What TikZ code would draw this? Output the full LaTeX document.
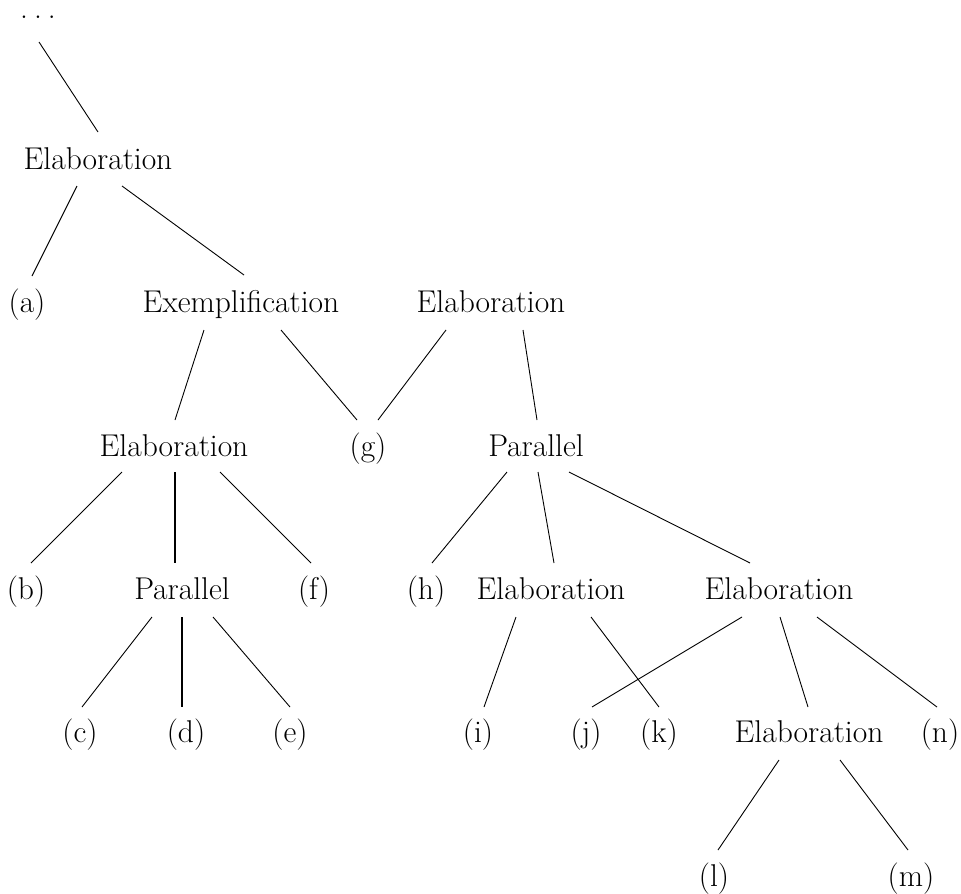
\documentclass[tikz,border=0pt]{standalone}
\begin{document}
\begin{tikzpicture}[x=1pt,y=-1pt,
  lbl/.style={inner sep=0pt, anchor=base, font=\fontsize{31.5}{38}\selectfont},
  edge/.style={line width=0.9pt},
  midedge/.style={line width=1.4pt},
  thickedge/.style={line width=2.6pt}]
\useasboundingbox (0,0) rectangle (961,894);
% nodes (x, baseline y)
\node[lbl] (top) at (38,19) {.\kern6pt.\kern6pt.};
\node[lbl] (E1) at (98,169) {Elaboration};
\node[lbl] (a) at (27,312) {(a)};
\node[lbl] (X) at (241,312) {Exemplification};
\node[lbl] (E2) at (491,312) {Elaboration};
\node[lbl] (E3) at (174,456) {Elaboration};
\node[lbl] (g) at (368,456) {(g)};
\node[lbl] (P1) at (536,456) {Parallel};
\node[lbl] (b) at (26,599) {(b)};
\node[lbl] (P2) at (182,599) {Parallel};
\node[lbl] (f) at (314,599) {(f)};
\node[lbl] (h) at (426,599) {(h)};
\node[lbl] (E4) at (551,599) {Elaboration};
\node[lbl] (E5) at (779,599) {Elaboration};
\node[lbl] (c) at (80,742) {(c)};
\node[lbl] (d) at (186,742) {(d)};
\node[lbl] (e) at (290,742) {(e)};
\node[lbl] (i) at (478,742) {(i)};
\node[lbl] (j) at (586,742) {(j)};
\node[lbl] (k) at (659,742) {(k)};
\node[lbl] (E6) at (809,742) {Elaboration};
\node[lbl] (n) at (940,742) {(n)};
\node[lbl] (l) at (714,886) {(l)};
\node[lbl] (m) at (911,886) {(m)};
% connectors
\draw[edge] ([shift={(1,23)}]top.base) -- ([shift={(0,-37)}]E1.base);
\draw[edge] ([shift={(-21,17)}]E1.base) -- ([shift={(5,-36)}]a.base);
\draw[edge] ([shift={(24,17)}]E1.base) -- ([shift={(3,-37)}]X.base);
\draw[edge] ([shift={(-37,18)}]X.base) -- ([shift={(1,-36)}]E3.base);
\draw[edge] ([shift={(40,18)}]X.base) -- ([shift={(-11,-36)}]g.base);
\draw[edge] ([shift={(-45,18)}]E2.base) -- ([shift={(10,-36)}]g.base);
\draw[edge] ([shift={(32,18)}]E2.base) -- ([shift={(1,-36)}]P1.base);
\draw[edge] ([shift={(-52,16)}]E3.base) -- ([shift={(5,-36)}]b.base);
\draw[midedge] ([shift={(1,16)}]E3.base) -- ([shift={(-7,-36)}]P2.base);
\draw[edge] ([shift={(46,16)}]E3.base) -- ([shift={(-3,-36)}]f.base);
\draw[edge] ([shift={(-30,18)}]P2.base) -- ([shift={(2,-35)}]c.base);
\draw[thickedge] ([shift={(0,18)}]P2.base) -- ([shift={(-4,-35)}]d.base);
\draw[edge] ([shift={(31,18)}]P2.base) -- ([shift={(0,-35)}]e.base);
\draw[edge] ([shift={(-29,16)}]P1.base) -- ([shift={(6,-36)}]h.base);
\draw[edge] ([shift={(2,16)}]P1.base) -- ([shift={(3,-36)}]E4.base);
\draw[edge] ([shift={(33,16)}]P1.base) -- ([shift={(-29,-36)}]E5.base);
\draw[edge] ([shift={(-35,18)}]E4.base) -- ([shift={(6,-35)}]i.base);
\draw[edge] ([shift={(40,18)}]E4.base) -- ([shift={(0,-35)}]k.base);
\draw[edge] ([shift={(-37,18)}]E5.base) -- ([shift={(6,-35)}]j.base);
\draw[edge] ([shift={(1,18)}]E5.base) -- ([shift={(-1,-35)}]E6.base);
\draw[edge] ([shift={(38,18)}]E5.base) -- ([shift={(-3,-35)}]n.base);
\draw[edge] ([shift={(-30,18)}]E6.base) -- ([shift={(4,-36)}]l.base);
\draw[edge] ([shift={(31,18)}]E6.base) -- ([shift={(-3,-36)}]m.base);
\end{tikzpicture}
\end{document}
